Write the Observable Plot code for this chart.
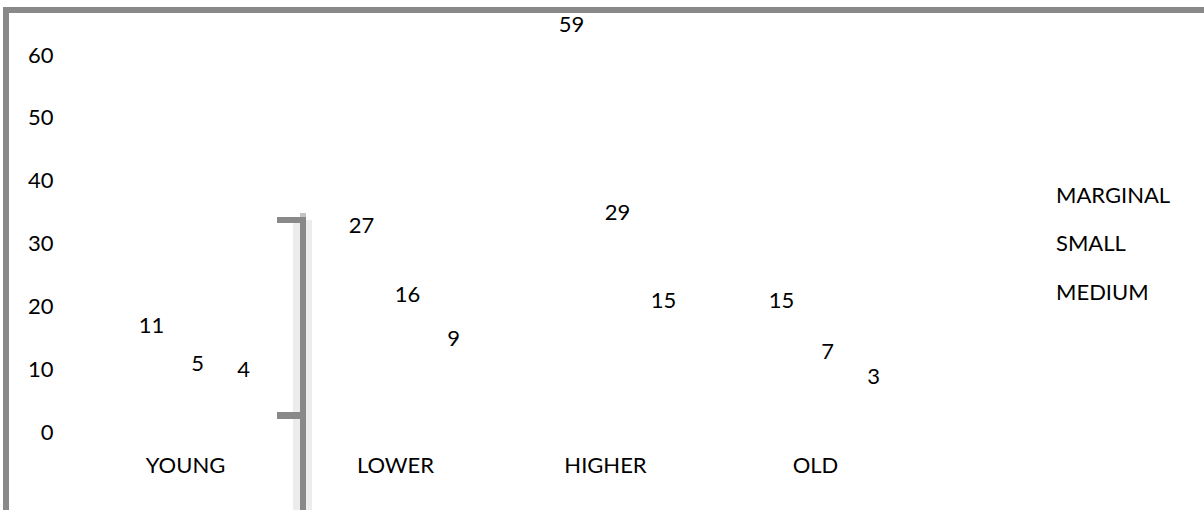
<!DOCTYPE html>
<html><head><meta charset="utf-8">
<script src="https://cdn.jsdelivr.net/npm/d3@7"></script>
<script src="https://cdn.jsdelivr.net/npm/@observablehq/plot@0.6"></script>
<style>
html,body{margin:0;padding:0;background:#fff;}
#wrap{position:relative;width:1204px;height:510px;overflow:hidden;font-family:Lato,sans-serif;}
#wrap svg{position:absolute;left:0;top:0;}
.deco{position:absolute;}
#legend{position:absolute;left:1056px;top:170.75px;font-family:Lato,sans-serif;font-size:22px;line-height:48.5px;color:#000;}
</style></head><body>
<div id="wrap"></div>
<script>
const categories = ["YOUNG", "LOWER", "HIGHER", "OLD"];
const series = ["MARGINAL", "SMALL", "MEDIUM"];
const marginal = [11, 27, 59, 15];
const small = [5, 16, 29, 7];
const medium = [4, 9, 15, 3];
const yTicks = [0, 10, 20, 30, 40, 50, 60];

const seriesValues = [marginal, small, medium];
const data = [];
categories.forEach((c, i) => {
  series.forEach((s, j) => data.push({category: c, series: s, value: seriesValues[j][i]}));
});

const chart = Plot.plot({
  width: 1204, height: 510,
  marginLeft: 91, marginRight: 271, marginTop: 55, marginBottom: 78,
  style: {fontFamily: "Lato, sans-serif", fontSize: "22px", color: "#000", background: "transparent"},
  fx: {domain: categories, padding: 0, label: null},
  x: {domain: series, type: "point", padding: 1.263, axis: null},
  y: {domain: [0, 60], label: null},
  marks: [
    Plot.axisY(yTicks, {tickSize: 0, tickPadding: 39, label: null, fill: "#000"}),
    Plot.axisFx({anchor: "bottom", tickSize: 0, tickPadding: 25, dx: -12, label: null, fill: "#000"}),
    Plot.text(data, {fx: "category", x: "series", y: "value", text: d => String(d.value), dy: -37, fill: "#000"})
  ]
});

const wrap = document.getElementById("wrap");
wrap.appendChild(chart);

function deco(l, t, w, h, c) {
  const d = document.createElement("div");
  d.className = "deco";
  Object.assign(d.style, {left: l + "px", top: t + "px", width: w + "px", height: h + "px", background: c});
  wrap.appendChild(d);
}
// outer frame (top and left)
deco(3, 7, 1201, 6, "#898989");
deco(3, 7, 6, 503, "#898989");
// bracket
deco(293, 220, 19, 290, "#ececec");
deco(300, 213, 6, 5, "#c4c4c4");
deco(300, 217, 6, 293, "#898989");
deco(277, 217, 23, 6, "#898989");
deco(277, 412, 23, 7, "#898989");

const legend = document.createElement("div");
legend.id = "legend";
series.forEach(s => {
  const r = document.createElement("div");
  r.textContent = s;
  legend.appendChild(r);
});
wrap.appendChild(legend);
</script>
</body></html>
